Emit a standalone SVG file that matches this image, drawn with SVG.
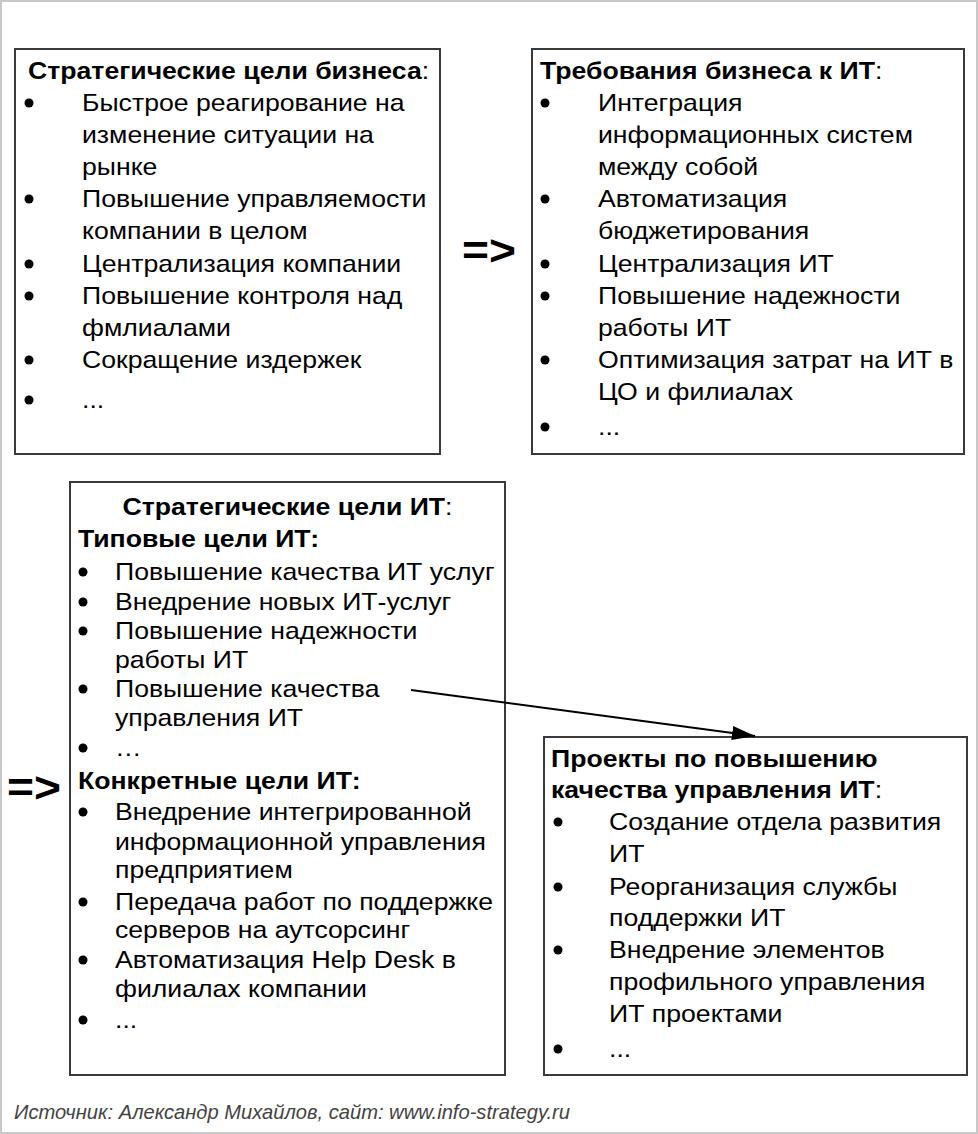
<svg xmlns="http://www.w3.org/2000/svg" width="978" height="1134" viewBox="0 0 978 1134">
<style>
  text { font-family: "Liberation Sans", Arial, sans-serif; fill: #000; font-size: 24px; }
  .b { font-weight: bold; }
  .dot { fill: #000; }
  .box { fill: #fff; stroke: #3a3a3a; stroke-width: 2; }
  .arr { font-size: 42px; font-weight: bold; }
  .src { font-size: 21px; font-style: italic; fill: #444; }
  .conn { stroke: #000; stroke-width: 2; fill: none; }
</style>
<defs>
  <marker id="ah" viewBox="0 0 10 10" refX="10" refY="5" markerWidth="23" markerHeight="14" markerUnits="userSpaceOnUse" orient="auto" preserveAspectRatio="none">
    <path d="M0,0 L10,5 L0,10 Z" fill="#000"/>
  </marker>
</defs>
<rect x="1" y="1" width="976" height="1132" fill="#fff" stroke="#c8c8c8" stroke-width="2"/>

<g id="node-business-goals">
  <rect class="box" x="15" y="49" width="425" height="405"/>
  <g transform="matrix(1.11 0 0 1 28 0)">
    <text x="0" y="79"><tspan class="b">Стратегические цели бизнеса</tspan>:</text>
  </g>
  <g class="bullets">
    <circle class="dot" cx="29" cy="103" r="4.5"/>
    <circle class="dot" cx="29" cy="199" r="4.5"/>
    <circle class="dot" cx="29" cy="264" r="4.5"/>
    <circle class="dot" cx="29" cy="296" r="4.5"/>
    <circle class="dot" cx="29" cy="360" r="4.5"/>
    <circle class="dot" cx="29" cy="400" r="4.5"/>
  </g>
  <g transform="matrix(1.11 0 0 1 82 0)">
    <text x="0" y="111">Быстрое реагирование на</text>
    <text x="0" y="143">изменение ситуации на</text>
    <text x="0" y="175">рынке</text>
    <text x="0" y="207">Повышение управляемости</text>
    <text x="0" y="239">компании в целом</text>
    <text x="0" y="272">Централизация компании</text>
    <text x="0" y="304">Повышение контроля над</text>
    <text x="0" y="336">фмлиалами</text>
    <text x="0" y="368">Сокращение издержек</text>
    <text x="0" y="408">...</text>
  </g>
</g>

<g id="node-business-req">
  <rect class="box" x="532" y="49" width="432" height="405"/>
  <g transform="matrix(1.11 0 0 1 540 0)">
    <text x="0" y="79"><tspan class="b">Требования бизнеса к ИТ</tspan>:</text>
  </g>
  <g class="bullets">
    <circle class="dot" cx="545" cy="103" r="4.5"/>
    <circle class="dot" cx="545" cy="199" r="4.5"/>
    <circle class="dot" cx="545" cy="264" r="4.5"/>
    <circle class="dot" cx="545" cy="296" r="4.5"/>
    <circle class="dot" cx="545" cy="360" r="4.5"/>
    <circle class="dot" cx="545" cy="427" r="4.5"/>
  </g>
  <g transform="matrix(1.11 0 0 1 598 0)">
    <text x="0" y="111">Интеграция</text>
    <text x="0" y="143">информационных систем</text>
    <text x="0" y="175">между собой</text>
    <text x="0" y="207">Автоматизация</text>
    <text x="0" y="239">бюджетирования</text>
    <text x="0" y="272">Централизация ИТ</text>
    <text x="0" y="304">Повышение надежности</text>
    <text x="0" y="336">работы ИТ</text>
    <text x="0" y="368">Оптимизация затрат на ИТ в</text>
    <text x="0" y="400">ЦО и филиалах</text>
    <text x="0" y="435">...</text>
  </g>
</g>

<g id="node-it-goals">
  <rect class="box" x="70" y="482" width="435" height="593"/>
  <g transform="matrix(1.11 0 0 1 287.5 0)">
    <text x="0" y="515" text-anchor="middle"><tspan class="b">Стратегические цели ИТ</tspan>:</text>
  </g>
  <g class="bullets">
    <circle class="dot" cx="83" cy="572" r="4.5"/>
    <circle class="dot" cx="83" cy="602" r="4.5"/>
    <circle class="dot" cx="83" cy="631" r="4.5"/>
    <circle class="dot" cx="83" cy="689" r="4.5"/>
    <circle class="dot" cx="83" cy="748" r="4.5"/>
    <circle class="dot" cx="83" cy="812" r="4.5"/>
    <circle class="dot" cx="83" cy="902" r="4.5"/>
    <circle class="dot" cx="83" cy="960" r="4.5"/>
    <circle class="dot" cx="83" cy="1020" r="4.5"/>
  </g>
  <g transform="matrix(1.11 0 0 1 78 0)">
    <text class="b" x="0" y="547">Типовые цели ИТ:</text>
    <text class="b" x="0" y="789">Конкретные цели ИТ:</text>
  </g>
  <g transform="matrix(1.11 0 0 1 115 0)">
    <text x="0" y="580">Повышение качества ИТ услуг</text>
    <text x="0" y="610">Внедрение новых ИТ-услуг</text>
    <text x="0" y="639">Повышение надежности</text>
    <text x="0" y="668">работы ИТ</text>
    <text x="0" y="697">Повышение качества</text>
    <text x="0" y="726">управления ИТ</text>
    <text x="0" y="756">…</text>
    <text x="0" y="820">Внедрение интегрированной</text>
    <text x="0" y="850">информационной управления</text>
    <text x="0" y="878">предприятием</text>
    <text x="0" y="910">Передача работ по поддержке</text>
    <text x="0" y="938">серверов на аутсорсинг</text>
    <text x="0" y="968">Автоматизация Help Desk в</text>
    <text x="0" y="997">филиалах компании</text>
    <text x="0" y="1028">...</text>
  </g>
</g>

<g id="node-projects">
  <rect class="box" x="544" y="737" width="423" height="338"/>
  <g transform="matrix(1.11 0 0 1 551 0)">
    <text class="b" x="0" y="767">Проекты по повышению</text>
    <text x="0" y="798"><tspan class="b">качества управления ИТ</tspan>:</text>
  </g>
  <g class="bullets">
    <circle class="dot" cx="558" cy="822" r="4.5"/>
    <circle class="dot" cx="558" cy="887" r="4.5"/>
    <circle class="dot" cx="558" cy="950" r="4.5"/>
    <circle class="dot" cx="558" cy="1049" r="4.5"/>
  </g>
  <g transform="matrix(1.11 0 0 1 609 0)">
    <text x="0" y="830">Создание отдела развития</text>
    <text x="0" y="862">ИТ</text>
    <text x="0" y="895">Реорганизация службы</text>
    <text x="0" y="926">поддержки ИТ</text>
    <text x="0" y="958">Внедрение элементов</text>
    <text x="0" y="990">профильного управления</text>
    <text x="0" y="1022">ИТ проектами</text>
    <text x="0" y="1057">...</text>
  </g>
</g>

<g id="connectors">
  <g transform="matrix(1.1 0 0 1 462 0)"><text class="arr" x="0" y="265">=&gt;</text></g>
  <g transform="matrix(1.1 0 0 1 7 0)"><text class="arr" x="0" y="802">=&gt;</text></g>
  <line class="conn" x1="411" y1="690" x2="755" y2="736" marker-end="url(#ah)"/>
</g>

<text class="src" x="14" y="1119" textLength="556" lengthAdjust="spacingAndGlyphs">Источник: Александр Михайлов, сайт: www.info-strategy.ru</text>
</svg>
